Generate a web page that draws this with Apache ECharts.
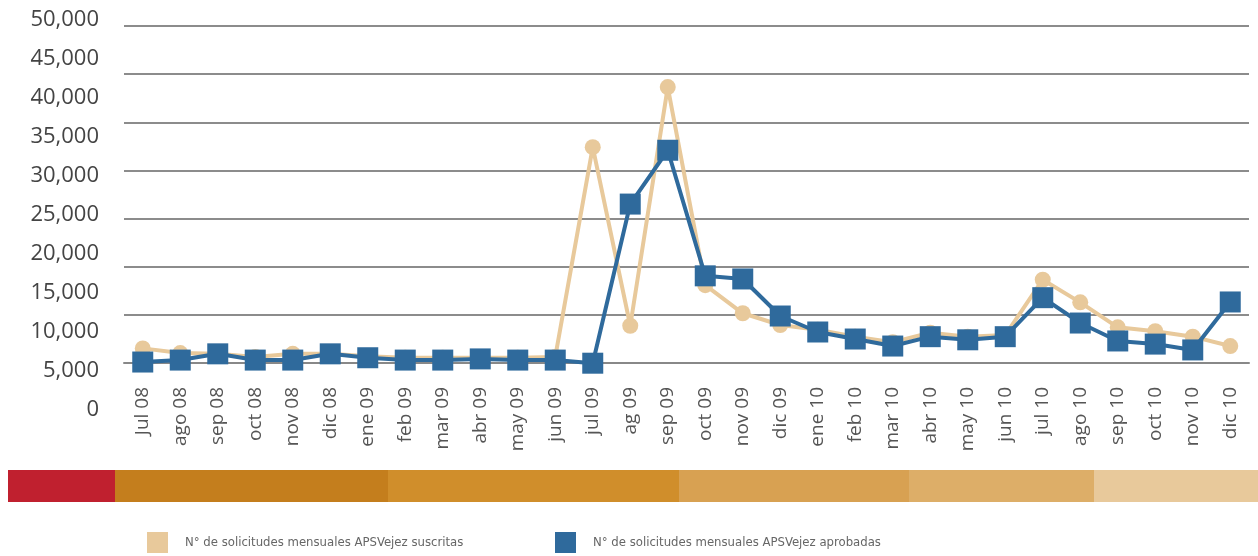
<!DOCTYPE html>
<html>
<head>
<meta charset="utf-8">
<script src="https://cdn.jsdelivr.net/npm/echarts@6/dist/echarts.min.js"></script>
<style>
  html, body { margin: 0; padding: 0; background: #fff; }
  #chart { width: 1258px; height: 556px; }
</style>
</head>
<body>
<div id="chart"></div>
<script>
// meses
const months = ['Jul 08', 'ago 08', 'sep 08', 'oct 08', 'nov 08', 'dic 08', 'ene 09', 'feb 09', 'mar 09', 'abr 09',
  'may 09', 'jun 09', 'jul 09', 'ag 09', 'sep 09', 'oct 09', 'nov 09', 'dic 09', 'ene 10', 'feb 10',
  'mar 10', 'abr 10', 'may 10', 'jun 10', 'jul 10', 'ago 10', 'sep 10', 'oct 10', 'nov 10', 'dic 10'];

// N° de solicitudes mensuales APSVejez suscritas
const suscritas = [7900, 7300, 7200, 6800, 7200, 7200, 6900, 6700, 6700, 6700,
  6700, 6800, 33700, 10800, 41400, 16000, 12400, 10900, 10300, 9400,
  8700, 9900, 9400, 9600, 16700, 13800, 10600, 10100, 9400, 8200];

// N° de solicitudes mensuales APSVejez aprobadas
const aprobadas = [6150, 6400, 7200, 6400, 6400, 7200, 6700, 6400, 6400, 6550,
  6400, 6400, 6000, 26400, 33300, 17200, 16800, 12050, 10000, 9100,
  8200, 9400, 9000, 9400, 14400, 11150, 8850, 8450, 7700, 13850];

const yTicks = { min: 0, max: 50000, step: 5000 };

const seriesNames = ['N° de solicitudes mensuales APSVejez suscritas', 'N° de solicitudes mensuales APSVejez aprobadas'];

// franja de colores bajo el grafico
const bandColors = ['#C0202F', '#C47E1D', '#D08E2B', '#D8A152', '#DDAE68', '#E8C99B'];
const bandEdges = [8, 115, 388, 679, 909, 1094, 1258];

const chart = echarts.init(document.getElementById('chart'));

let bands = [];
for (let i = 0; i < bandColors.length; i++) {
  bands.push({
    type: 'rect',
    shape: { x: bandEdges[i], y: 470, width: bandEdges[i + 1] - bandEdges[i], height: 32 },
    style: { fill: bandColors[i] },
    silent: true
  });
}

const legendText = {
  fontFamily: '"Liberation Sans Narrow", "DejaVu Sans Condensed", sans-serif',
  fontSize: 13,
  color: '#666',
  padding: [6, 0, 0, 12]
};

chart.setOption({
  animation: false,
  textStyle: { fontFamily: '"Open Sans", sans-serif' },
  grid: [
    { left: 124, right: 9, top: 26, height: 337 },   // lineas + eje x
    { left: 124, right: 9, top: 20, height: 390 }    // datos + etiquetas y
  ],
  xAxis: [
    {
      gridIndex: 0,
      type: 'category',
      data: months,
      axisLine: { lineStyle: { color: '#888', width: 2 } },
      axisTick: { length: 10, lineStyle: { color: '#555', width: 1.5 } },
      axisLabel: { rotate: 90, fontSize: 19, color: '#555', margin: 24 }
    },
    { gridIndex: 1, type: 'category', data: months, show: false }
  ],
  yAxis: [
    {
      gridIndex: 0,
      type: 'value',
      min: 0,
      max: 7,
      interval: 1,
      axisLabel: { show: false },
      axisLine: { show: false },
      axisTick: { show: false },
      splitLine: { lineStyle: { color: '#666', width: 1.5 } }
    },
    {
      gridIndex: 1,
      type: 'value',
      min: yTicks.min,
      max: yTicks.max,
      interval: yTicks.step,
      axisLine: { show: false },
      axisTick: { show: false },
      splitLine: { show: false },
      axisLabel: {
        fontSize: 22,
        color: '#444',
        margin: 25,
        formatter: v => v.toLocaleString('en-US')
      }
    }
  ],
  legend: [
    {
      data: [seriesNames[0]], left: 147, top: 532, padding: 0, icon: 'rect',
      itemWidth: 21, itemHeight: 21, textStyle: legendText
    },
    {
      data: [seriesNames[1]], left: 555, top: 532, padding: 0, icon: 'rect',
      itemWidth: 21, itemHeight: 21, textStyle: legendText
    }
  ],
  graphic: bands,
  series: [
    {
      name: seriesNames[0],
      type: 'line',
      xAxisIndex: 1,
      yAxisIndex: 1,
      data: suscritas,
      color: '#E8C99B',
      symbol: 'circle',
      symbolSize: 16,
      lineStyle: { width: 4 },
      z: 2
    },
    {
      name: seriesNames[1],
      type: 'line',
      xAxisIndex: 1,
      yAxisIndex: 1,
      data: aprobadas,
      color: '#2F6A9C',
      symbol: 'rect',
      symbolSize: 21,
      lineStyle: { width: 4 },
      z: 3
    }
  ]
});
</script>
</body>
</html>
